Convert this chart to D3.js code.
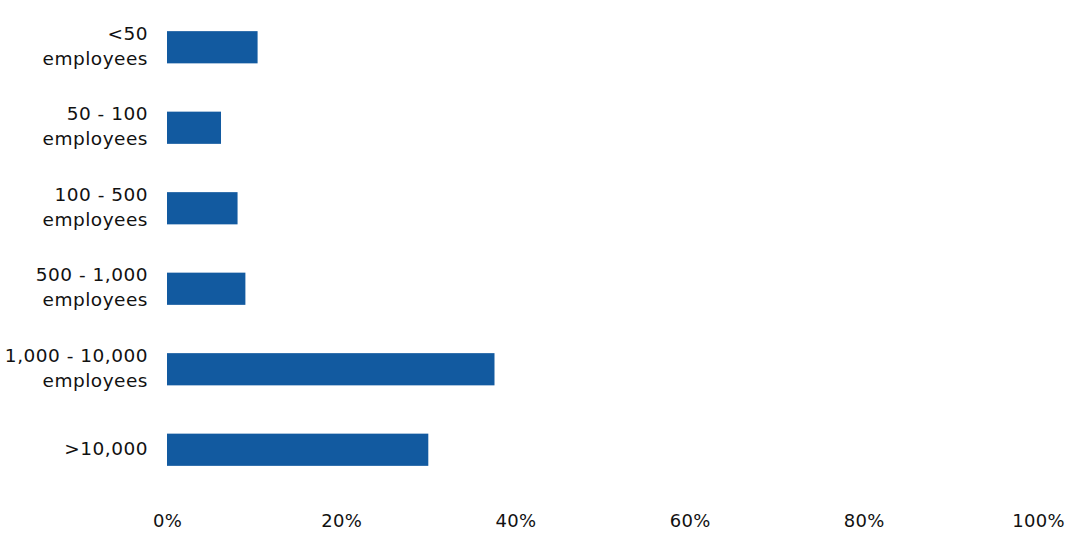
<!DOCTYPE html>
<html>
<head>
<meta charset="utf-8">
<script src="https://cdnjs.cloudflare.com/ajax/libs/d3/7.8.5/d3.min.js"></script>
<style>
  body { margin: 0; background: #fff; }
  svg text { font-family: "DejaVu Sans", sans-serif; fill: #111; }
</style>
</head>
<body>
<svg id="chart"></svg>
<script>
var categories = [
    ["<50", "employees"],
    ["50 - 100", "employees"],
    ["100 - 500", "employees"],
    ["500 - 1,000", "employees"],
    ["1,000 - 10,000", "employees"],
    [">10,000"]
];
var shares = [10.4, 6.2, 8.1, 9.0, 37.6, 30.0];
var tickValues = [0, 20, 40, 60, 80, 100];

var width = 1080;
var height = 555;
var margin = { top: 7, right: 42, bottom: 65, left: 167 };

var svg = d3.select("#chart")
    .attr("width", width)
    .attr("height", height);

var x = d3.scaleLinear()
    .domain([0, 100])
    .range([margin.left, width - margin.right]);

var y = d3.scaleBand()
    .domain(d3.range(categories.length))
    .range([margin.top, height - margin.bottom])
    .paddingInner(0.6)
    .paddingOuter(0.3);

// bars
svg.selectAll("rect.bar")
    .data(shares)
    .enter().append("rect")
    .attr("class", "bar")
    .attr("x", x(0))
    .attr("y", function (d, i) { return y(i); })
    .attr("width", function (d) { return x(d) - x(0); })
    .attr("height", y.bandwidth())
    .attr("fill", "#125aa0");

// category labels (one or two lines, right aligned)
var lineH = 25;
var label = svg.selectAll("text.cat")
    .data(categories)
    .enter().append("text")
    .attr("class", "cat")
    .attr("text-anchor", "end")
    .attr("font-size", 18.5)
    .attr("letter-spacing", 0.5)
    .attr("x", 148)
    .attr("y", function (d, i) { return y(i) + y.bandwidth() / 2; });

label.selectAll("tspan")
    .data(function (d) { return d.map(function (t, k) { return { t: t, k: k, n: d.length }; }); })
    .enter().append("tspan")
    .attr("x", 148)
    .attr("dy", function (d) {
        if (d.k === 0) return ((-(d.n - 1) / 2) * lineH + 5) + "px";
        return lineH + "px";
    })
    .text(function (d) { return d.t; });

// x axis labels, no line
var xAxis = d3.axisBottom(x)
    .tickValues(tickValues)
    .tickSize(0)
    .tickPadding(0)
    .tickFormat(function (d) { return d + "%"; });

var ax = svg.append("g")
    .attr("transform", "translate(0," + 514 + ")")
    .call(xAxis);
ax.select(".domain").remove();
ax.selectAll("text")
    .attr("font-size", 18)
    .attr("letter-spacing", 0.3)
    .attr("font-family", "DejaVu Sans, sans-serif")
    .style("fill", "#111");
</script>
</body>
</html>
